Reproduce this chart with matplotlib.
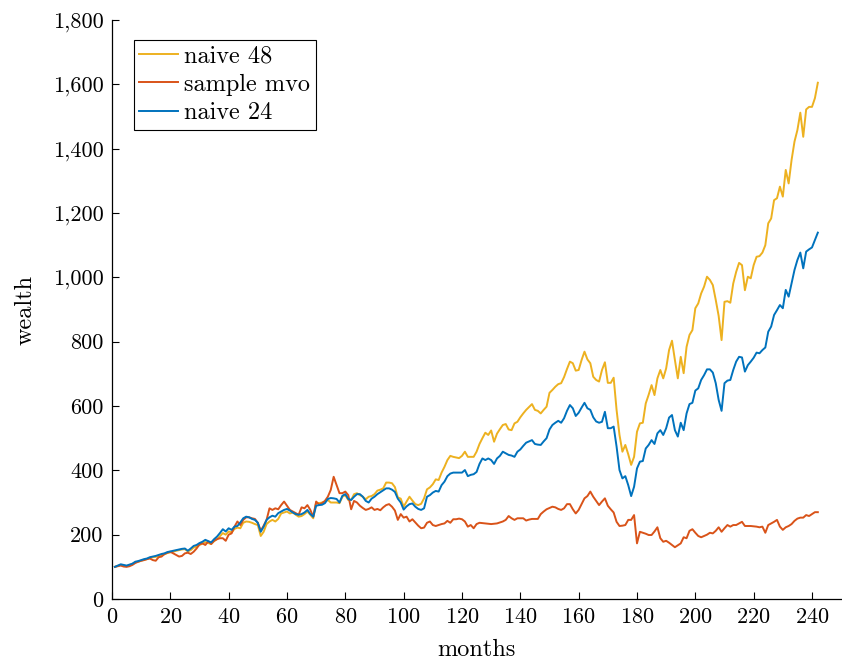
#plot wealth paths of the three strategies over the months
import matplotlib
matplotlib.use('Agg')
import matplotlib.pyplot as plt
from matplotlib.ticker import FuncFormatter

months = list(range(1, 243))

naive48 = [100, 103, 106, 104, 102, 105, 109, 114, 116, 119,
           122, 124, 128, 130, 131, 134, 137, 139, 143, 145,
           147, 150, 152, 154, 155, 148, 152, 160, 163, 168,
           172, 177, 174, 171, 180, 186, 195, 205, 200, 210,
           207, 218, 222, 220, 237, 241, 240, 237, 233, 230,
           196, 209, 233, 241, 246, 241, 249, 266, 269, 272,
           266, 269, 262, 256, 258, 264, 272, 262, 251, 300,
           298, 300, 303, 308, 300, 300, 300, 298, 318, 323,
           308, 308, 326, 329, 323, 318, 310, 318, 320, 326,
           337, 340, 344, 362, 362, 360, 348, 316, 312, 287,
           303, 318, 306, 295, 292, 296, 313, 341, 347, 357,
           372, 370, 393, 411, 432, 445, 442, 440, 438, 445,
           458, 442, 442, 442, 458, 482, 500, 517, 510, 524,
           489, 514, 528, 541, 544, 527, 525, 546, 551, 565,
           577, 588, 597, 606, 588, 585, 577, 588, 598, 641,
           650, 660, 668, 671, 690, 715, 738, 733, 710, 712,
           743, 769, 745, 733, 691, 681, 676, 712, 736, 672,
           672, 688, 588, 510, 458, 479, 450, 417, 442, 520,
           546, 548, 608, 635, 665, 634, 686, 712, 686, 717,
           774, 803, 743, 686, 753, 702, 784, 821, 836, 904,
           919, 950, 971, 1002, 992, 976, 930, 880, 805, 924,
           926, 921, 981, 1017, 1045, 1038, 960, 1002, 997, 1038,
           1064, 1066, 1077, 1100, 1168, 1183, 1240, 1246, 1282, 1251,
           1334, 1292, 1365, 1422, 1458, 1512, 1437, 1522, 1530, 1530,
           1557, 1605]

sample_mvo = [100, 102, 104, 101, 100, 102, 106, 112, 116, 119,
              121, 124, 126, 121, 119, 130, 132, 140, 144, 147,
              142, 137, 132, 134, 142, 144, 140, 147, 157, 170,
              173, 168, 179, 171, 181, 186, 189, 189, 181, 200,
              204, 225, 241, 230, 246, 254, 254, 251, 249, 237,
              212, 228, 246, 282, 277, 282, 279, 292, 303, 290,
              277, 272, 267, 262, 285, 282, 292, 277, 256, 303,
              293, 298, 305, 318, 339, 380, 355, 329, 329, 334,
              323, 279, 305, 300, 290, 283, 277, 280, 285, 277,
              280, 276, 285, 292, 295, 287, 275, 246, 264, 253,
              256, 241, 248, 238, 228, 220, 222, 237, 241, 230,
              227, 230, 233, 235, 243, 237, 248, 248, 250, 248,
              241, 225, 230, 220, 233, 237, 236, 235, 234, 233,
              234, 235, 238, 241, 246, 258, 251, 246, 251, 251,
              251, 244, 247, 249, 249, 249, 264, 272, 279, 283,
              287, 285, 280, 277, 282, 295, 295, 279, 266, 277,
              295, 313, 320, 334, 318, 305, 292, 303, 313, 290,
              279, 269, 240, 227, 228, 230, 246, 246, 261, 173,
              209, 206, 203, 199, 199, 210, 223, 189, 178, 181,
              175, 168, 161, 167, 173, 192, 189, 212, 217, 206,
              196, 192, 196, 200, 206, 204, 212, 223, 209, 220,
              230, 225, 230, 230, 235, 240, 227, 227, 227, 226,
              225, 223, 225, 206, 230, 235, 240, 246, 225, 215,
              223, 227, 233, 243, 250, 253, 253, 261, 258, 264,
              270, 270]

naive24 = [100, 104, 108, 106, 104, 107, 110, 116, 118, 121,
           124, 126, 130, 132, 134, 137, 140, 142, 146, 148,
           150, 152, 154, 156, 157, 150, 157, 165, 168, 174,
           178, 184, 180, 176, 186, 194, 205, 217, 210, 220,
           215, 225, 227, 238, 251, 256, 254, 249, 246, 237,
           209, 225, 246, 254, 259, 256, 267, 272, 277, 280,
           275, 269, 264, 262, 264, 269, 277, 264, 256, 290,
           292, 293, 298, 311, 314, 313, 311, 300, 321, 326,
           311, 308, 318, 326, 326, 318, 305, 300, 312, 318,
           326, 332, 338, 344, 344, 340, 333, 312, 300, 278,
           288, 295, 297, 287, 280, 277, 282, 318, 323, 331,
           336, 334, 354, 365, 382, 390, 393, 393, 393, 393,
           401, 382, 386, 388, 395, 420, 437, 432, 437, 432,
           420, 437, 445, 458, 453, 448, 446, 442, 458, 465,
           476, 486, 490, 494, 482, 480, 479, 490, 500, 527,
           541, 548, 554, 548, 562, 585, 603, 593, 569, 579,
           595, 610, 593, 588, 565, 552, 548, 551, 582, 531,
           531, 536, 474, 401, 375, 382, 354, 320, 349, 406,
           427, 429, 468, 479, 494, 482, 515, 525, 510, 531,
           564, 572, 525, 505, 548, 525, 577, 606, 610, 648,
           655, 681, 696, 714, 714, 704, 671, 619, 585, 671,
           679, 681, 712, 738, 753, 751, 707, 727, 738, 750,
           766, 764, 774, 782, 831, 847, 883, 898, 914, 904,
           961, 940, 981, 1023, 1054, 1077, 1028, 1080, 1087, 1093,
           1116, 1139]

xticks = list(range(0, 241, 20))
yticks = list(range(0, 1801, 200))

plt.rcParams['font.family'] = ['cmr10', 'DejaVu Serif']
plt.rcParams['axes.formatter.use_mathtext'] = True

fig = plt.figure(figsize=(8.42, 6.63), dpi=100)
ax = fig.add_axes([0.133, 0.0965, 0.866, 0.8733])

ax.plot(months, naive48, color='#EDB120', lw=1.4, label='naive 48')
ax.plot(months, sample_mvo, color='#D95319', lw=1.4, label='sample mvo')
ax.plot(months, naive24, color='#0072BD', lw=1.4, label='naive 24')

ax.set_xlim(0, 250)
ax.set_ylim(0, 1800)
ax.set_xticks(xticks)
ax.set_yticks(yticks)
ax.yaxis.set_major_formatter(FuncFormatter(lambda v, p: '{:,.0f}'.format(v)))
ax.tick_params(direction='in', length=5, width=0.8, top=False, right=False,
               labelsize=16, pad=6)
ax.spines['top'].set_visible(False)
ax.spines['right'].set_visible(False)
for s in ax.spines.values():
    s.set_linewidth(0.9)

ax.set_xlabel('months', fontsize=17.5, labelpad=9)
ax.set_ylabel('wealth', fontsize=17.5, labelpad=12)

leg = ax.legend(loc='upper left', bbox_to_anchor=(0.03, 0.965), fancybox=False,
                framealpha=1, edgecolor='black', handlelength=1.6, borderpad=0.22,
                labelspacing=0.25, handletextpad=0.25, borderaxespad=0, fontsize=17.5)
leg.get_frame().set_linewidth(0.8)

fig.savefig('out.png', dpi=100)
